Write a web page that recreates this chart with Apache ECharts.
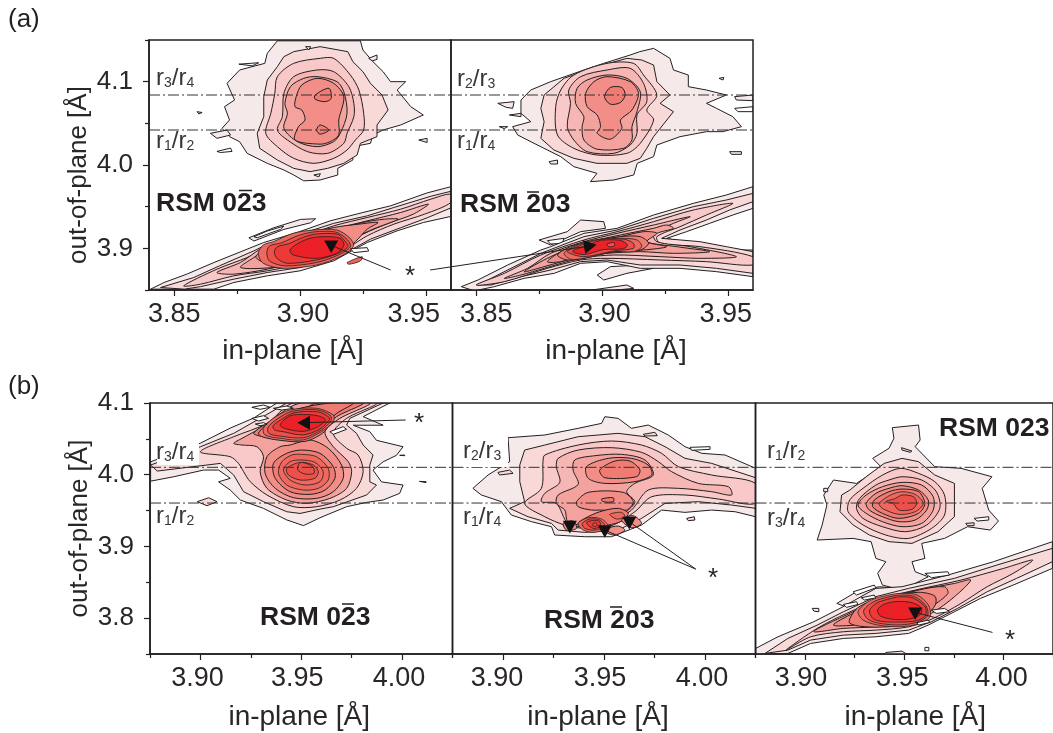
<!DOCTYPE html>
<html><head><meta charset="utf-8">
<style>html,body{margin:0;padding:0;background:#fff}#c{width:1053px;height:733px}</style>
<script src="https://cdn.jsdelivr.net/npm/echarts@6/dist/echarts.min.js"></script>
</head><body><div id="c"></div>
<script>
// ---- tick labels
const xTicksA=[3.85,3.90,3.95], xMinorA=[3.875,3.925];
const yTicksA=[3.9,4.0,4.1], yMinorA=[3.85,3.95,4.05,4.15];
const xTicksB=[3.90,3.95,4.00], xMinorB=[3.875,3.925,3.975,4.025];
const yTicksB=[3.8,3.9,4.0,4.1], yMinorB=[3.75,3.85,3.95,4.05];
const refA=[4.084,4.042], refB=[4.0103,3.9605];
// ---- contour polygons, [in-plane, out-of-plane] in Å. Panel a1: RSM 0-23
const a1u1=[[3.891,4.149],[3.924,4.149],[3.925,4.138],[3.929,4.124],[3.933,4.112],[3.936,4.100],[3.942,4.100],[3.9386,4.090],[3.944,4.070],[3.949,4.060],[3.940,4.048],[3.933,4.042],[3.929,4.036],[3.928,4.026],[3.921,4.022],[3.921,4.006],[3.915,3.996],[3.915,3.988],[3.908,3.982],[3.9015,3.981],[3.8975,3.988],[3.8936,3.994],[3.887,4.002],[3.879,4.014],[3.876,4.028],[3.872,4.034],[3.869,4.044],[3.872,4.054],[3.870,4.070],[3.874,4.078],[3.871,4.098],[3.876,4.114],[3.886,4.122],[3.887,4.134]];
const a1u2=[[3.8975,4.136],[3.908,4.142],[3.919,4.136],[3.921,4.124],[3.925,4.112],[3.928,4.098],[3.9326,4.084],[3.935,4.066],[3.9306,4.048],[3.9306,4.034],[3.924,4.026],[3.9227,4.012],[3.9174,4.002],[3.911,3.996],[3.904,3.992],[3.8975,3.996],[3.891,4.006],[3.884,4.020],[3.883,4.038],[3.8856,4.058],[3.8856,4.082],[3.887,4.102],[3.891,4.118],[3.8936,4.130]];
const a1u3=[[3.908,4.128],[3.9134,4.128],[3.920,4.108],[3.9234,4.090],[3.9253,4.062],[3.9253,4.042],[3.922,4.030],[3.9187,4.018],[3.9134,4.008],[3.9055,4.002],[3.8975,4.008],[3.891,4.022],[3.8864,4.038],[3.8884,4.062],[3.890,4.086],[3.891,4.106],[3.8975,4.122]];
const a1u4=[[3.9068,4.114],[3.9134,4.112],[3.9194,4.094],[3.9214,4.074],[3.9214,4.058],[3.9187,4.038],[3.9174,4.026],[3.911,4.014],[3.903,4.016],[3.895,4.030],[3.891,4.042],[3.893,4.058],[3.8936,4.086],[3.8975,4.106]];
const a1u5=[[3.9068,4.106],[3.9147,4.100],[3.9174,4.088],[3.9187,4.062],[3.916,4.038],[3.9134,4.028],[3.9068,4.022],[3.899,4.028],[3.8936,4.044],[3.895,4.062],[3.894,4.074],[3.8962,4.094],[3.9015,4.104]];
const a1u6=[[3.9068,4.104],[3.9134,4.098],[3.9174,4.082],[3.9154,4.054],[3.9154,4.036],[3.912,4.028],[3.908,4.025],[3.898,4.030],[3.8994,4.046],[3.902,4.054],[3.9007,4.066],[3.898,4.070],[3.8985,4.082],[3.9007,4.096]];
const a1u7a=[[3.906,4.084],[3.9115,4.092],[3.9124,4.080],[3.910,4.076],[3.906,4.079]];
const a1u7b=[[3.9066,4.042],[3.908,4.048],[3.9115,4.042],[3.908,4.037]];
const a1i1=[[3.8757,4.121],[3.8836,4.1227],[3.881,4.119]];
const a1i2=[[3.8644,4.038],[3.871,4.042],[3.8724,4.036],[3.867,4.032]];
const a1i3=[[3.867,4.0163],[3.8724,4.0203],[3.873,4.0163],[3.8684,4.015]];
const a1i4=[[3.9273,4.128],[3.9306,4.132],[3.9306,4.1267],[3.9287,4.125]];
const a1i5=[[3.9472,4.030],[3.9505,4.032],[3.9505,4.027]];
const a1i6=[[3.8591,4.064],[3.8611,4.063],[3.8598,4.0613]];
const a1i7=[[3.9022,4.142],[3.9042,4.142],[3.9035,4.138]];
const a1i8=[[3.9055,3.988],[3.9081,3.9896],[3.9075,3.9857]];
const a1f1=[[3.8797,3.9127],[3.8896,3.9247],[3.9002,3.9347],[3.9062,3.9355],[3.9042,3.9307],[3.8936,3.9227],[3.8817,3.9088]];
const a1f2=[[3.8817,3.9139],[3.8869,3.9207],[3.8936,3.9267],[3.8922,3.9227],[3.883,3.9127]];
const a1s1=[[3.8406,3.851],[3.846,3.859],[3.855,3.869],[3.8658,3.883],[3.879,3.899],[3.8856,3.907],[3.8989,3.919],[3.912,3.933],[3.925,3.943],[3.936,3.951],[3.9505,3.9665],[3.960,3.974],[3.961,3.939],[3.949,3.931],[3.9386,3.921],[3.9267,3.907],[3.9134,3.885],[3.900,3.873],[3.887,3.867],[3.8737,3.859],[3.8658,3.851]];
const a1s2=[[3.8446,3.853],[3.8578,3.865],[3.868,3.879],[3.8817,3.897],[3.887,3.905],[3.900,3.917],[3.9134,3.930],[3.9267,3.939],[3.9373,3.949],[3.952,3.9625],[3.960,3.9685],[3.960,3.9486],[3.9505,3.9366],[3.940,3.9247],[3.928,3.911],[3.9148,3.889],[3.900,3.877],[3.887,3.871],[3.8737,3.863],[3.8605,3.854],[3.854,3.851]];
const a1s3=[[3.8538,3.855],[3.867,3.875],[3.879,3.889],[3.887,3.901],[3.900,3.913],[3.9134,3.927],[3.9267,3.937],[3.940,3.947],[3.952,3.959],[3.960,3.965],[3.960,3.955],[3.9495,3.941],[3.9373,3.929],[3.9267,3.915],[3.9148,3.893],[3.900,3.881],[3.887,3.873],[3.8737,3.867],[3.8605,3.857]];
const a1s4=[[3.867,3.871],[3.8763,3.883],[3.8856,3.901],[3.900,3.911],[3.9134,3.923],[3.9267,3.933],[3.940,3.943],[3.951,3.953],[3.945,3.941],[3.936,3.931],[3.925,3.917],[3.9134,3.897],[3.900,3.885],[3.887,3.875],[3.8737,3.869]];
const a1s5=[[3.8764,3.877],[3.8817,3.889],[3.887,3.899],[3.900,3.909],[3.9134,3.921],[3.925,3.931],[3.9336,3.935],[3.939,3.935],[3.929,3.923],[3.921,3.911],[3.9134,3.895],[3.900,3.883],[3.8896,3.877]];
const a1s6=[[3.8825,3.889],[3.8856,3.899],[3.891,3.907],[3.900,3.915],[3.9134,3.925],[3.9234,3.929],[3.931,3.931],[3.9267,3.923],[3.922,3.908],[3.9134,3.888],[3.900,3.878],[3.8896,3.879]];
const a1r0=[[3.8854,3.904],[3.8894,3.908],[3.8973,3.9181],[3.9053,3.922],[3.9146,3.922],[3.9199,3.9121],[3.9212,3.902],[3.9159,3.89],[3.9066,3.88],[3.8934,3.876],[3.8854,3.882],[3.8834,3.894]];
const a1r2=[[3.888,3.903],[3.8925,3.9065],[3.8995,3.9155],[3.9058,3.9198],[3.9142,3.9195],[3.9188,3.9105],[3.92,3.902],[3.9152,3.892],[3.9066,3.883],[3.8942,3.879],[3.888,3.8845],[3.8868,3.8945]];
const a1r4=[[3.891,3.902],[3.8955,3.9055],[3.9015,3.9135],[3.9065,3.9172],[3.9148,3.917],[3.9178,3.909],[3.919,3.902],[3.9147,3.8935],[3.9066,3.886],[3.8952,3.882],[3.891,3.8875],[3.8898,3.8955]];
const a1c=[[3.896,3.898],[3.8993,3.906],[3.904,3.9121],[3.9093,3.914],[3.9159,3.9121],[3.9175,3.904],[3.9146,3.894],[3.9066,3.888],[3.8973,3.892]];
const a1h1=[[3.9201,3.8996],[3.9267,3.9008],[3.9273,3.8968],[3.9214,3.8948]];
const a1h2=[[3.9187,3.8829],[3.9247,3.89],[3.924,3.8849],[3.9194,3.8809]];
// ---- panel a2: RSM -203
const a2u1=[[3.9205,4.140],[3.927,4.128],[3.9284,4.114],[3.9343,4.108],[3.9343,4.094],[3.9415,4.090],[3.9494,4.084],[3.9415,4.074],[3.9455,4.068],[3.952,4.058],[3.9554,4.046],[3.948,4.040],[3.9415,4.040],[3.931,4.034],[3.9218,4.024],[3.9205,4.010],[3.914,4.002],[3.9126,3.988],[3.9047,3.982],[3.8954,3.980],[3.898,3.990],[3.8888,3.998],[3.8836,4.010],[3.873,4.026],[3.8665,4.036],[3.8645,4.046],[3.8717,4.052],[3.8678,4.062],[3.8678,4.078],[3.8717,4.090],[3.8796,4.100],[3.8928,4.114],[3.9007,4.122],[3.9112,4.132],[3.915,4.136]];
const a2u2=[[3.9158,4.126],[3.9205,4.120],[3.9218,4.100],[3.927,4.084],[3.9231,4.074],[3.9284,4.064],[3.9205,4.034],[3.9178,4.020],[3.9152,4.008],[3.9099,4.002],[3.898,4.002],[3.8888,4.008],[3.8809,4.018],[3.8757,4.032],[3.877,4.052],[3.8757,4.068],[3.877,4.084],[3.8849,4.104],[3.898,4.118],[3.9099,4.128]];
const a2u3=[[3.9125,4.122],[3.9165,4.108],[3.9218,4.084],[3.9178,4.066],[3.9205,4.054],[3.9152,4.026],[3.9099,4.014],[3.898,4.012],[3.8888,4.020],[3.8823,4.036],[3.8816,4.070],[3.8836,4.090],[3.8888,4.108],[3.902,4.122]];
const a2u4=[[3.902,4.114],[3.9112,4.116],[3.9165,4.098],[3.9178,4.076],[3.9139,4.060],[3.9139,4.038],[3.9112,4.024],[3.9047,4.014],[3.8941,4.016],[3.8888,4.030],[3.8862,4.046],[3.8875,4.074],[3.8868,4.090],[3.8915,4.106]];
const a2u5=[[3.902,4.108],[3.9099,4.104],[3.9152,4.088],[3.9139,4.064],[3.9119,4.046],[3.9119,4.030],[3.9086,4.020],[3.898,4.019],[3.8928,4.030],[3.8921,4.046],[3.8928,4.058],[3.8895,4.074],[3.8901,4.092],[3.8941,4.102]];
const a2u6=[[3.902,4.106],[3.9112,4.100],[3.9145,4.086],[3.9119,4.066],[3.9073,4.054],[3.9079,4.044],[3.9033,4.031],[3.8981,4.038],[3.8994,4.046],[3.8981,4.060],[3.8941,4.070],[3.8935,4.086],[3.8968,4.100]];
const a2u7=[[3.9033,4.093],[3.9079,4.093],[3.9092,4.084],[3.9073,4.075],[3.9033,4.073],[3.901,4.082]];
const a2i1=[[3.8586,4.074],[3.8651,4.076],[3.8645,4.068],[3.8619,4.0692]];
const a2i2=[[3.8632,4.06],[3.8678,4.062],[3.8678,4.058]];
const a2i3=[[3.8592,4.046],[3.8625,4.046],[3.8612,4.0436]];
const a2i4=[[3.9465,4.104],[3.9484,4.1052],[3.9481,4.102]];
const a2i5=[[3.9527,4.082],[3.96,4.084],[3.96,4.0772],[3.9534,4.078]];
const a2i6=[[3.9527,4.068],[3.96,4.07],[3.96,4.064],[3.954,4.064]];
const a2i7=[[3.9507,4.016],[3.9554,4.016],[3.9554,4.0128],[3.9514,4.0128]];
const a2i8=[[3.879,4.004],[3.8823,4.006],[3.8823,4.0012],[3.8796,4.0012]];
const a2f1=[[3.875,3.91],[3.8862,3.92],[3.8915,3.934],[3.9007,3.932],[3.9014,3.924],[3.8915,3.92],[3.8796,3.904]];
const a2f2=[[3.8783,3.9092],[3.8849,3.912],[3.8842,3.906],[3.8796,3.9052]];
const a2f3=[[3.8981,3.868],[3.9033,3.878],[3.9152,3.88],[3.9205,3.876],[3.9099,3.87],[3.9007,3.862]];
const a2f4=[[3.8941,3.8492],[3.9099,3.856],[3.9126,3.852],[3.9033,3.8492]];
const a2s1=[[3.8441,3.854],[3.8507,3.862],[3.8625,3.880],[3.8757,3.898],[3.8796,3.902],[3.8928,3.918],[3.906,3.924],[3.9205,3.940],[3.9363,3.954],[3.9494,3.964],[3.960,3.974],[3.960,3.948],[3.952,3.940],[3.9428,3.930],[3.9336,3.920],[3.9257,3.912],[3.9389,3.904],[3.9494,3.898],[3.960,3.898],[3.960,3.866],[3.9455,3.872],[3.931,3.876],[3.9152,3.876],[3.902,3.884],[3.8915,3.882],[3.881,3.870],[3.8691,3.864],[3.8572,3.854],[3.8493,3.849]];
const a2s2=[[3.8507,3.856],[3.8625,3.874],[3.8757,3.894],[3.8928,3.914],[3.906,3.922],[3.9205,3.936],[3.9363,3.950],[3.9494,3.958],[3.960,3.966],[3.960,3.956],[3.9507,3.946],[3.9415,3.934],[3.9310,3.922],[3.9237,3.912],[3.9389,3.908],[3.9494,3.902],[3.960,3.896],[3.960,3.870],[3.9455,3.876],[3.931,3.880],[3.9152,3.880],[3.902,3.886],[3.8915,3.884],[3.8796,3.874],[3.8678,3.866],[3.8559,3.856]];
const a2s3=[[3.85,3.856],[3.8612,3.870],[3.8757,3.892],[3.8928,3.910],[3.906,3.920],[3.9205,3.932],[3.9363,3.946],[3.952,3.954],[3.9415,3.940],[3.931,3.926],[3.9218,3.914],[3.9231,3.906],[3.9389,3.902],[3.960,3.890],[3.960,3.880],[3.9415,3.884],[3.9231,3.886],[3.902,3.888],[3.8915,3.886],[3.8783,3.876],[3.8612,3.860]];
const a2s4=[[3.8612,3.864],[3.8704,3.876],[3.8796,3.894],[3.8928,3.908],[3.906,3.918],[3.9205,3.928],[3.935,3.938],[3.9284,3.930],[3.9205,3.918],[3.9218,3.908],[3.9350,3.902],[3.9534,3.890],[3.9389,3.888],[3.9231,3.890],[3.9047,3.892],[3.8915,3.888],[3.8770,3.876],[3.8678,3.868]];
const a2s5=[[3.8691,3.872],[3.8796,3.890],[3.8928,3.906],[3.9073,3.916],[3.9205,3.924],[3.9257,3.928],[3.9284,3.924],[3.9218,3.918],[3.9178,3.908],[3.9297,3.902],[3.9428,3.896],[3.9284,3.894],[3.9152,3.896],[3.902,3.894],[3.8915,3.890],[3.8770,3.878]];
const a2s6=[[3.8783,3.884],[3.8849,3.898],[3.8941,3.906],[3.9073,3.914],[3.9165,3.920],[3.9218,3.918],[3.9178,3.908],[3.9257,3.902],[3.9165,3.898],[3.9047,3.896],[3.8928,3.892],[3.8836,3.884]];
const a2s7=[[3.8823,3.892],[3.8875,3.902],[3.8954,3.908],[3.9073,3.914],[3.9152,3.914],[3.9185,3.906],[3.9152,3.898],[3.9047,3.896],[3.8928,3.888],[3.8862,3.886]];
const a2s8=[[3.8849,3.894],[3.8888,3.902],[3.8968,3.910],[3.9073,3.912],[3.9139,3.910],[3.9158,3.902],[3.9125,3.896],[3.9047,3.896],[3.8928,3.888],[3.8875,3.887]];
const a2s9=[[3.8862,3.896],[3.8902,3.902],[3.8981,3.910],[3.9086,3.911],[3.9125,3.906],[3.9125,3.900],[3.9047,3.897],[3.8928,3.890]];
const a2c=[[3.8882,3.8965],[3.8941,3.9035],[3.8994,3.9095],[3.9075,3.9095],[3.9101,3.904],[3.9085,3.8995],[3.9007,3.8985],[3.8928,3.8925]];
const a2s12=[[3.902,3.905],[3.9047,3.907],[3.905,3.903],[3.9027,3.902]];
// ---- panel b1: RSM 0-23
const b1m1=[[3.8753,4.018],[3.900,4.044],[3.9148,4.065],[3.9264,4.079],[3.9379,4.100],[3.9939,4.100],[3.9807,4.081],[3.9906,4.069],[3.9758,4.069],[3.984,4.060],[3.9873,4.048],[4.0005,4.039],[3.9972,4.027],[3.9906,4.018],[3.9856,4.0065],[3.9898,3.990],[4.0005,3.9856],[3.9988,3.974],[3.9906,3.9647],[3.9824,3.9614],[3.9725,3.9554],[3.9593,3.940],[3.9511,3.929],[3.9428,3.937],[3.9313,3.953],[3.9198,3.9647],[3.9148,3.9786],[3.909,3.990],[3.9148,3.995],[3.909,4.0065],[3.9016,4.0065],[3.8868,3.9972],[3.8753,3.991]];
const b1m2=[[3.8753,4.0135],[3.90,4.039],[3.9165,4.0577],[3.9296,4.0786],[3.9428,4.10],[3.9906,4.10],[3.9741,4.0786],[3.9725,4.0693],[3.9774,4.0577],[3.9807,4.0414],[3.9856,4.0275],[3.984,4.0135],[3.984,3.990],[3.9873,3.9856],[3.9824,3.9717],[3.9659,3.9554],[3.9593,3.952],[3.9494,3.946],[3.9428,3.9484],[3.9313,3.9624],[3.9214,3.9763],[3.9165,3.9996],[3.9099,4.0158],[3.8786,4.0051]];
const b1m3=[[3.90,4.032],[3.9165,4.053],[3.933,4.0716],[3.9461,4.10],[3.9873,4.10],[3.9725,4.0786],[3.9659,4.0577],[3.9725,4.0368],[3.9782,4.0275],[3.9807,4.0042],[3.9774,3.981],[3.9692,3.9647],[3.9576,3.9554],[3.9461,3.9554],[3.933,3.9717],[3.9247,3.9903],[3.9214,4.0042],[3.9189,4.0158],[3.9148,4.0251]];
const b1m4=[[3.9165,4.0437],[3.9206,4.0507],[3.9296,4.0647],[3.9494,4.10],[3.9840,4.10],[3.9692,4.0786],[3.9618,4.06],[3.9659,4.0391],[3.9733,4.0182],[3.975,4.0042],[3.9725,3.981],[3.9642,3.967],[3.9527,3.9601],[3.9428,3.9647],[3.933,3.981],[3.9296,4.0042],[3.9313,4.0251],[3.9280,4.039],[3.9206,4.0414]];
const b1l5=[[3.9445,4.0414],[3.9544,4.0484],[3.9634,4.0368],[3.97,4.0135],[3.9708,3.995],[3.9659,3.9763],[3.9576,3.967],[3.9461,3.968],[3.9371,3.981],[3.9321,4.0018],[3.933,4.0251],[3.9395,4.039]];
const b1l6=[[3.9502,4.0344],[3.9593,4.0298],[3.9659,4.0112],[3.9667,3.995],[3.9618,3.9786],[3.9544,3.9726],[3.9445,3.9763],[3.9371,3.995],[3.9362,4.0158],[3.9428,4.0298]];
const b1l7=[[3.9502,4.0284],[3.9576,4.0251],[3.9634,4.0088],[3.9634,3.9926],[3.9585,3.981],[3.9511,3.9786],[3.9428,3.9856],[3.9387,4.002],[3.9404,4.0182],[3.9453,4.0275]];
const b1l8=[[3.9502,4.0205],[3.9568,4.0172],[3.9609,4.0042],[3.9593,3.9903],[3.9519,3.9856],[3.9445,3.9926],[3.9412,4.0065],[3.9445,4.0182]];
const b1l9=[[3.9494,4.0172],[3.956,4.0135],[3.9585,4.0042],[3.9568,3.995],[3.9494,3.9926],[3.9436,3.9996],[3.9428,4.0088]];
const b1l10=[[3.9502,4.0172],[3.9557,4.0112],[3.9563,4.002],[3.9519,4.001],[3.9483,4.0065],[3.9486,4.0135]];
const b1c5=[[3.9264,4.0577],[3.9346,4.074],[3.9494,4.0879],[3.9576,4.10],[3.9807,4.10],[3.9675,4.0809],[3.9593,4.06],[3.9527,4.0507],[3.9428,4.0484],[3.9313,4.053]];
const b1c6=[[3.9288,4.058],[3.9355,4.0765],[3.9480,4.0915],[3.9642,4.10],[3.9758,4.10],[3.9662,4.0825],[3.9615,4.06],[3.9519,4.0465],[3.9395,4.048],[3.9305,4.053]];
const b1o=[[3.9312,4.0648],[3.9361,4.0787],[3.9444,4.0903],[3.9577,4.0926],[3.9659,4.0833],[3.9659,4.074],[3.9601,4.0601],[3.951,4.0485],[3.9395,4.0508],[3.932,4.0555]];
const b1r2=[[3.9335,4.0658],[3.938,4.0775],[3.9455,4.0885],[3.9578,4.0905],[3.9645,4.0825],[3.9647,4.075],[3.9597,4.0618],[3.951,4.0515],[3.9404,4.0535],[3.934,4.0575]];
const b1r4=[[3.936,4.068],[3.94,4.0768],[3.9465,4.0865],[3.9585,4.0875],[3.9638,4.08],[3.9638,4.076],[3.9593,4.0638],[3.951,4.0555],[3.941,4.06],[3.9368,4.0625]];
const b1c=[[3.9395,4.0694],[3.9444,4.082],[3.951,4.084],[3.9585,4.082],[3.962,4.0764],[3.958,4.0665],[3.951,4.0605],[3.9425,4.064]];
const b1h1=[[3.9255,4.094],[3.9313,4.0972],[3.9346,4.094],[3.9296,4.0912]];
const b1h2=[[3.9362,4.0926],[3.9428,4.0958],[3.9461,4.0926],[3.9404,4.0902]];
const b1h3=[[3.9255,4.0786],[3.9313,4.0823],[3.9338,4.0786],[3.9288,4.0749]];
const b1h4=[[3.9272,4.0707],[3.9313,4.0726],[3.933,4.0702],[3.9296,4.0684]];
const b1h5=[[3.9642,4.06],[3.9708,4.067],[3.9725,4.0633],[3.9659,4.0563]];
const b1i1=[[3.8984,3.9624],[3.9041,3.9679],[3.9082,3.9624],[3.9033,3.9568]];
const b1i2=[[3.9988,4.027],[4.0013,4.0275],[4.0013,4.0265]];
const b1i3=[[4.0086,3.9907],[4.0119,3.9903],[4.0119,3.989]];
// ---- panel b2: RSM -203
const b2m1=[[3.9504,4.0809],[3.957,4.0786],[3.9636,4.0647],[3.9719,4.0693],[3.9818,4.0554],[3.9901,4.0391],[3.9984,4.0298],[4.0099,4.0275],[4.0251,4.0089],[4.0251,3.9414],[4.0149,3.9484],[4.0033,3.9507],[3.9901,3.9475],[3.9785,3.9507],[3.9686,3.9298],[3.9537,3.9135],[3.9405,3.9135],[3.9256,3.9159],[3.924,3.9275],[3.9141,3.9345],[3.9041,3.9438],[3.8992,3.9624],[3.8893,3.9717],[3.8851,3.981],[3.8926,3.9996],[3.9033,4.0182],[3.9025,4.0516],[3.9207,4.0554],[3.9372,4.0647],[3.9488,4.0716]];
const b2m2=[[3.9107,4.0344],[3.9207,4.0414],[3.9372,4.053],[3.957,4.0577],[3.9703,4.053],[3.9802,4.0391],[3.9901,4.0228],[4.0033,4.0158],[4.0251,3.9958],[4.0251,3.9531],[4.0132,3.9577],[3.9967,3.9624],[3.9802,3.96],[3.9686,3.9391],[3.957,3.9228],[3.9405,3.9196],[3.9273,3.9228],[3.924,3.9321],[3.9124,3.9414],[3.9033,3.9531],[3.9107,3.9624],[3.9083,3.9903],[3.9083,4.0135]];
const b2m3=[[3.9207,4.0275],[3.9372,4.0414],[3.9537,4.047],[3.9686,4.0414],[3.9785,4.0298],[3.9868,4.0112],[4.0033,3.9996],[4.0251,3.9879],[4.0251,3.96],[4.0066,3.9661],[3.9901,3.9717],[3.9736,3.9693],[3.9653,3.9484],[3.9537,3.9289],[3.9405,3.9252],[3.9306,3.9298],[3.9207,3.9414],[3.9107,3.96],[3.919,3.981],[3.9198,4.0182]];
const b2m4=[[3.9273,4.0228],[3.9372,4.0344],[3.9537,4.0377],[3.9686,4.0312],[3.9769,4.0182],[3.9835,4.0042],[3.9967,3.9879],[4.0116,3.9833],[4.0132,3.9717],[4.0033,3.9763],[3.9868,3.981],[3.9719,3.9786],[3.9636,3.9507],[3.9537,3.9345],[3.9422,3.9275],[3.9322,3.9321],[3.9264,3.96],[3.919,3.9624],[3.9207,3.974],[3.9281,3.9893],[3.9264,4.0112]];
const b2m5=[[3.9355,4.0205],[3.9455,4.0265],[3.9587,4.0284],[3.9703,4.0205],[3.9744,3.9996],[3.9653,3.9879],[3.9612,3.9763],[3.9653,3.9624],[3.962,3.9507],[3.9537,3.9321],[3.9422,3.9289],[3.9322,3.9345],[3.9306,3.9507],[3.9264,3.96],[3.9273,3.9717],[3.9372,3.9865],[3.9347,4.0065]];
const b2u6=[[3.9413,4.0112],[3.9521,4.0228],[3.9636,4.0228],[3.9719,4.0135],[3.9736,3.9996],[3.9653,3.9903],[3.9504,3.9879],[3.9422,3.9949]];
const b2u7=[[3.9479,4.0065],[3.9554,4.0191],[3.9628,4.0191],[3.9678,4.0065],[3.9661,3.9972],[3.9504,3.9958]];
const b2l6=[[3.9364,3.9624],[3.9422,3.9754],[3.9595,3.9754],[3.9645,3.9624],[3.9612,3.9507],[3.9479,3.9507],[3.9438,3.9507],[3.9372,3.9554]];
const b2l7=[[3.9488,3.9661],[3.9546,3.9679],[3.9546,3.9624],[3.9496,3.9624]];
const b2c6=[[3.9479,3.9484],[3.957,3.9531],[3.962,3.9461],[3.9587,3.9354],[3.9521,3.9298],[3.9422,3.9275],[3.9372,3.9321],[3.9405,3.9391]];
const b2c7=[[3.9529,3.9447],[3.9587,3.9475],[3.9603,3.9414],[3.9562,3.9382]];
const b2c8=[[3.9372,3.9321],[3.9422,3.94],[3.9488,3.9382],[3.9521,3.9275],[3.9455,3.9196],[3.9397,3.9228]];
const b2c9=[[3.9392,3.9321],[3.943,3.9382],[3.9479,3.9368],[3.9504,3.9284],[3.9455,3.9228],[3.9405,3.9252]];
const b2c10=[[3.9413,3.933],[3.9446,3.9363],[3.9479,3.9345],[3.9479,3.9275],[3.9446,3.9252]];
const b2c11=[[3.9446,3.9321],[3.9463,3.9321],[3.9463,3.9284],[3.9446,3.9284]];
const b2k1=[[3.9521,3.9252],[3.957,3.9284],[3.9603,3.9228],[3.9554,3.9159],[3.9512,3.9196]];
const b2k2=[[3.9587,3.9368],[3.9645,3.9428],[3.9686,3.9321],[3.9636,3.9261]];
const b2k3=[[3.9298,3.9321],[3.9347,3.9354],[3.9364,3.9252],[3.9314,3.9228]];
const b2i1=[[3.8975,4.0033],[3.9033,4.0065],[3.905,4.0019],[3.8983,3.9996]];
const b2i2=[[3.9694,4.0563],[3.9752,4.0591],[3.9764,4.0544],[3.9703,4.054]];
const b2i3=[[3.9909,3.9391],[3.9947,3.9414],[3.995,3.9368],[3.9917,3.9359]];
const b2i4=[[3.9926,4.0382],[4.0025,4.0391],[4.0025,4.0354],[3.9934,4.034]];
// ---- panel b3: RSM 023
const b3u1=[[3.944,4.0656],[3.9572,4.0693],[3.958,4.0484],[3.9555,4.0391],[3.9654,4.0112],[3.9786,4.0089],[3.9942,3.9972],[3.9893,3.981],[3.9926,3.9507],[3.9975,3.9354],[3.9934,3.9228],[3.9819,3.9275],[3.9703,3.9112],[3.9588,3.9042],[3.9604,3.8833],[3.9539,3.8787],[3.9555,3.8647],[3.9621,3.8577],[3.9489,3.8391],[3.939,3.8461],[3.9366,3.8624],[3.9407,3.8787],[3.9357,3.8833],[3.9333,3.9066],[3.9242,3.9112],[3.9061,3.9089],[3.9086,3.9298],[3.911,3.9577],[3.9094,3.9717],[3.9143,3.9926],[3.9259,3.9879],[3.9324,3.9996],[3.9382,4.0112],[3.9341,4.0228],[3.9423,4.0368],[3.9448,4.0507]];
const b3u2=[[3.9489,4.0228],[3.9572,4.0182],[3.9654,3.9996],[3.9753,3.9879],[3.9753,3.9624],[3.9753,3.9414],[3.967,3.9205],[3.9539,3.9042],[3.9423,3.9066],[3.9324,3.9159],[3.9242,3.93],[3.9176,3.9484],[3.9184,3.9717],[3.9226,3.9786],[3.9308,3.9972],[3.9399,4.0158]];
const b3u3=[[3.9481,4.0089],[3.9572,4.0019],[3.9654,3.9903],[3.9703,3.9717],[3.9703,3.9438],[3.9637,3.925],[3.9522,3.9112],[3.9407,3.9159],[3.9292,3.93],[3.9217,3.9484],[3.9226,3.965],[3.9292,3.981],[3.9391,3.9996]];
const b3u4=[[3.9489,3.9972],[3.9588,3.9926],[3.9662,3.9763],[3.9679,3.953],[3.9613,3.9298],[3.9506,3.9205],[3.939,3.9275],[3.9292,3.9391],[3.9259,3.953],[3.9275,3.967],[3.9357,3.9856],[3.9423,3.9926]];
const b3u5=[[3.9489,3.9893],[3.9588,3.9856],[3.9646,3.9693],[3.9646,3.9507],[3.9588,3.9321],[3.9489,3.9275],[3.939,3.9345],[3.9308,3.9461],[3.9267,3.9577],[3.9308,3.9717],[3.939,3.9833]];
const b3u6=[[3.9489,3.9847],[3.9572,3.9786],[3.9621,3.9647],[3.9613,3.9507],[3.9555,3.9368],[3.9473,3.9345],[3.939,3.9414],[3.9324,3.9507],[3.9308,3.96],[3.9357,3.974],[3.9423,3.981]];
const b3u7=[[3.9489,3.98],[3.9572,3.9763],[3.9604,3.96],[3.9572,3.9461],[3.9473,3.9391],[3.939,3.9461],[3.9341,3.9554],[3.9349,3.9647],[3.9423,3.9763]];
const b3u8=[[3.9489,3.9763],[3.9555,3.9726],[3.9596,3.96],[3.9555,3.9484],[3.9473,3.9447],[3.939,3.953],[3.9374,3.96],[3.9431,3.9717]];
const b3u9=[[3.9489,3.9717],[3.9547,3.9693],[3.9563,3.96],[3.9539,3.9517],[3.9473,3.9507],[3.9443,3.96],[3.9407,3.9624],[3.9456,3.967]];
const b3s1=[[3.8751,3.7578],[3.8863,3.774],[3.9044,3.795],[3.9176,3.8136],[3.9357,3.8415],[3.9489,3.8438],[3.972,3.8601],[3.995,3.8787],[4.0247,3.9066],[4.0247,3.8694],[4.0049,3.8461],[3.9884,3.8275],[3.9753,3.8089],[3.9621,3.7903],[3.9522,3.7787],[3.9357,3.774],[3.9193,3.7717],[3.9028,3.7647],[3.8913,3.7508],[3.8751,3.7499]];
const b3s2=[[3.8798,3.7508],[3.8913,3.7717],[3.9061,3.7903],[3.9193,3.8089],[3.9357,3.83],[3.9522,3.8415],[3.9753,3.8555],[3.9967,3.874],[4.0247,3.8973],[4.0247,3.8787],[4.0066,3.8554],[3.9918,3.8368],[3.9769,3.8136],[3.9637,3.795],[3.9522,3.7833],[3.9357,3.7787],[3.9193,3.7763],[3.9028,3.7694],[3.8913,3.7554]];
const b3s3=[[3.8904,3.7554],[3.9061,3.7857],[3.9209,3.8066],[3.939,3.8275],[3.9555,3.8391],[3.9786,3.8531],[4.0,3.8693],[4.0148,3.881],[4.0049,3.8624],[3.9918,3.8438],[3.9786,3.8205],[3.9646,3.7996],[3.9522,3.7879],[3.9357,3.7833],[3.9193,3.7810],[3.9028,3.774]];
const b3s4=[[3.9044,3.7813],[3.9193,3.8024],[3.9357,3.8229],[3.9555,3.8382],[3.9753,3.8484],[3.9835,3.8531],[3.9753,3.8298],[3.9637,3.8066],[3.9522,3.7926],[3.9357,3.7879],[3.9193,3.7857]];
const b3s5=[[3.9143,3.7903],[3.9242,3.8066],[3.939,3.8229],[3.9572,3.8391],[3.9703,3.8438],[3.9720,3.8345],[3.9637,3.8159],[3.953,3.7973],[3.939,3.7926],[3.9259,3.7903]];
const b3s6=[[3.9225,3.793],[3.9265,3.8145],[3.939,3.8285],[3.9572,3.836],[3.9655,3.8305],[3.9655,3.8175],[3.9575,3.796],[3.939,3.7875]];
const b3o=[[3.9267,3.809],[3.9317,3.8229],[3.9383,3.8299],[3.9482,3.8346],[3.9564,3.8323],[3.9622,3.8183],[3.963,3.802],[3.9581,3.7928],[3.9482,3.788],[3.9366,3.7904],[3.9292,3.7974]];
const b3r2=[[3.9295,3.81],[3.9337,3.8215],[3.9397,3.828],[3.9482,3.8322],[3.9552,3.83],[3.961,3.8172],[3.9618,3.8036],[3.957,3.7948],[3.9482,3.7905],[3.9374,3.7928],[3.9316,3.7987]];
const b3r4=[[3.9325,3.811],[3.936,3.8208],[3.9415,3.8262],[3.9478,3.8298],[3.9545,3.828],[3.9606,3.8155],[3.9606,3.803],[3.9558,3.7962],[3.948,3.7945],[3.9385,3.7955],[3.934,3.8]];
const b3c=[[3.9365,3.8114],[3.94,3.8195],[3.9465,3.8232],[3.954,3.8215],[3.9588,3.8137],[3.9578,3.804],[3.9518,3.7985],[3.944,3.7985],[3.938,3.803]];
const b3f1=[[3.916,3.8205],[3.9259,3.8368],[3.9374,3.8438],[3.944,3.8424],[3.9357,3.8229],[3.9226,3.8136]];
const b3h1=[[3.9193,3.8191],[3.9259,3.8229],[3.9267,3.8191],[3.9209,3.815]];
const b3h2=[[3.9283,3.8284],[3.9349,3.8322],[3.9357,3.8284],[3.93,3.8252]];
const b3h3=[[3.9242,3.8368],[3.9349,3.8461],[3.9357,3.8424],[3.9259,3.8322]];
const b3h4=[[3.9637,3.8112],[3.9703,3.8136],[3.9728,3.8089],[3.9662,3.8066]];
const b3h5=[[3.9563,3.7936],[3.9621,3.7973],[3.9629,3.794],[3.9572,3.7903]];
const b3i1=[[3.9604,3.8624],[3.972,3.8647],[3.9728,3.86],[3.9637,3.8563]];
const b3i2=[[3.9486,4.0377],[3.9539,4.033],[3.953,4.0312],[3.9489,4.0344]];
const b3i3=[[3.9852,3.9391],[3.9926,3.9414],[3.9926,3.9368],[3.9868,3.9354]];
const b3i4=[[3.981,3.9321],[3.9852,3.933],[3.9852,3.9289],[3.9819,3.9289]];
const b3i5=[[3.9036,3.8136],[3.9069,3.8136],[3.9069,3.8089],[3.9044,3.8098]];
const b3i6=[[3.9094,3.981],[3.9114,3.981],[3.9114,3.9763],[3.9094,3.9763]];
const b3i7=[[3.9407,3.7522],[3.9489,3.754],[3.9514,3.7494],[3.9399,3.7494]];
const b3i8=[[3.9604,3.7592],[3.9624,3.7592],[3.9624,3.7545],[3.9604,3.7545]];
// ---- arrows: tail x, tail y, head x, head y, head direction in degrees
const a1Arrows=[[3.936,3.874,3.9124,3.9036,-90]];
const a2Arrows=[[3.8317,3.874,3.8948,3.9028,10]];
const b1Arrows=[[4.0018,4.0763,3.9519,4.0726,180]];
const b2Arrows=[[3.9954,3.8684,3.9504,3.9228,-90],[3.9954,3.8684,3.9625,3.9345,-90],[3.9331,3.9289,3.9331,3.9289,-90]];
const b3Arrows=[[3.9945,3.7801,3.9555,3.808,-90]];

const levelColors=['#ffffff','#f6e9e9','#f9d9d8','#f8c9c8','#f6b6b3','#f4a29d','#f28e87','#f07b73','#ef675f','#ee5049','#ed3a36','#ec2127'];
const lineColor='#231f20';
const font='"Liberation Sans",Arial,sans-serif';

const panels=[
 {left:149,top:40,width:302,height:250,xr:[3.84,3.96],yr:[3.85,4.15],xt:xTicksA,xm:xMinorA,yt:yTicksA,ym:yMinorA,ref:refA,showY:true,arrows:a1Arrows,namePad:[0,14,0,0],yPad:[0,20,0,0],labelShift:[0,3,-12],gap:47,
  polys:[[1,a1u1],[2,a1u2],[3,a1u3],[4,a1u4],[5,a1u5],[6,a1u6],[7,a1u7a],[7,a1u7b],[0,a1i1],[1,a1i2],[0,a1i3],[1,a1i4],[1,a1i5],[1,a1i6],[1,a1i7],[1,a1i8],[1,a1f1],[0,a1f2],[1,a1s1],[2,a1s2],[3,a1s3],[4,a1s4],[5,a1s5],[6,a1s6],[8,a1r0],[9,a1r2],[10,a1r4],[11,a1c],[0,a1h1],[8,a1h2]]},
 {left:451,top:40,width:302,height:250,xr:[3.84,3.96],yr:[3.85,4.15],xt:xTicksA,xm:xMinorA,yt:[],ym:[],ref:refA,showY:false,arrows:a2Arrows,namePad:[0,0,0,28],yPad:[0,0,0,0],labelShift:[10,2.5,-2],gap:47,
  polys:[[1,a2u1],[2,a2u2],[3,a2u3],[4,a2u4],[5,a2u5],[6,a2u6],[7,a2u7],[1,a2i1],[1,a2i2],[1,a2i3],[1,a2i4],[1,a2i5],[0,a2i6],[1,a2i7],[1,a2i8],[1,a2f1],[0,a2f2],[1,a2f3],[1,a2f4],[1,a2s1],[2,a2s2],[3,a2s3],[4,a2s4],[5,a2s5],[6,a2s6],[7,a2s7],[8,a2s8],[9,a2s9],[11,a2c],[9,a2s12]]},
 {left:150,top:403,width:302.5,height:251,xr:[3.875,4.025],yr:[3.75,4.1],xt:xTicksB,xm:xMinorB,yt:yTicksB,ym:yMinorB,ref:refB,showY:true,arrows:b1Arrows,namePad:[0,4,0,0],yPad:[0,0,0,0],labelShift:[-3,-4,-3],gap:49,
  polys:[[1,b1m1],[2,b1m2],[3,b1m3],[5,b1m4],[6,b1l5],[7,b1l6],[8,b1l7],[8,b1l8],[9,b1l9],[9,b1l10],[7,b1c5],[7,b1c6],[8,b1o],[9,b1r2],[10,b1r4],[11,b1c],[0,b1h1],[0,b1h2],[0,b1h3],[0,b1h4],[0,b1h5],[2,b1i1],[0,b1i2],[0,b1i3]]},
 {left:452.5,top:403,width:303,height:251,xr:[3.875,4.025],yr:[3.75,4.1],xt:xTicksB,xm:xMinorB,yt:[],ym:[],ref:refB,showY:false,arrows:b2Arrows,namePad:[0,12,0,0],yPad:[0,0,0,0],labelShift:[-6,-4,-3],gap:49,
  polys:[[1,b2m1],[2,b2m2],[3,b2m3],[4,b2m4],[5,b2m5],[6,b2u6],[7,b2u7],[6,b2l6],[7,b2l7],[7,b2c6],[8,b2c7],[8,b2c8],[9,b2c9],[10,b2c10],[9,b2c11],[6,b2k1],[6,b2k2],[6,b2k3],[2,b2i1],[2,b2i2],[2,b2i3],[0,b2i4]]},
 {left:755.5,top:403,width:303,height:251,xr:[3.875,4.025],yr:[3.75,4.1],xt:xTicksB,xm:xMinorB,yt:[],ym:[],ref:refB,showY:false,arrows:b3Arrows,namePad:[0,0,0,22],yPad:[0,0,0,0],labelShift:[-4,-2,-2],gap:49,
  polys:[[1,b3u1],[2,b3u2],[3,b3u3],[4,b3u4],[5,b3u5],[6,b3u6],[7,b3u7],[8,b3u8],[9,b3u9],[2,b3i2],[0,b3i3],[2,b3i4],[1,b3i5],[1,b3i6],[1,b3i7],[0,b3i8],[1,b3f1],[1,b3s1],[2,b3s2],[3,b3s3],[5,b3s4],[6,b3s5],[7,b3s6],[8,b3o],[9,b3r2],[10,b3r4],[11,b3c],[0,b3h1],[0,b3h2],[0,b3h3],[0,b3h4],[0,b3h5],[0,b3i1]]}
];

const xTickFont=27,yTickFont=26,xNameFont=28,yNameFont=26,textCol='#2a2627';
const grid=[],xAxis=[],yAxis=[],series=[];
panels.forEach((p,i)=>{
 grid.push({left:p.left,top:p.top,width:p.width,height:p.height,show:false,containLabel:false});
 const axLine={show:true,lineStyle:{color:lineColor,width:1.5}};
 const labelRich={};
 p.labelShift.forEach((s,k)=>{labelRich['t'+k]={fontFamily:font,fontSize:xTickFont,color:textCol,padding:[0,s<0?-2*s:0,0,s>0?2*s:0]};});
 xAxis.push({type:'value',gridIndex:i,min:p.xr[0],max:p.xr[1],position:'bottom',splitLine:{show:false},
   axisLine:axLine,axisTick:{show:true,length:6,customValues:p.xt,lineStyle:{color:lineColor,width:1.2}},
   axisLabel:{show:true,customValues:p.xt,margin:11,fontFamily:font,fontSize:xTickFont,color:textCol,rich:labelRich,
     formatter:v=>{const k=p.xt.findIndex(t=>Math.abs(t-v)<1e-6);return `{t${k}|${v.toFixed(2)}}`;}},
   name:'in-plane [Å]',nameLocation:'middle',nameGap:p.gap,nameTextStyle:{fontFamily:font,fontSize:xNameFont,color:textCol,padding:p.namePad}});
 xAxis.push({type:'value',gridIndex:i,min:p.xr[0],max:p.xr[1],position:'bottom',splitLine:{show:false},
   axisLine:{show:false},axisLabel:{show:false},axisTick:{show:true,length:4,customValues:p.xm,lineStyle:{color:lineColor,width:1.2}}});
 yAxis.push({type:'value',gridIndex:i,min:p.yr[0],max:p.yr[1],position:'left',splitLine:{show:false},show:p.showY,
   axisLine:axLine,axisTick:{show:true,length:6,customValues:p.yt,lineStyle:{color:lineColor,width:1.2}},
   axisLabel:{show:true,customValues:p.yt,margin:16,padding:[6,0,0,0],fontFamily:font,fontSize:yTickFont,color:textCol,formatter:v=>v.toFixed(1)},
   name:p.showY?'out-of-plane [Å]':'',nameLocation:'middle',nameRotate:90,nameGap:57,nameTextStyle:{fontFamily:font,fontSize:yNameFont,color:textCol,padding:p.yPad}});
 yAxis.push({type:'value',gridIndex:i,min:p.yr[0],max:p.yr[1],position:'left',show:p.showY,splitLine:{show:false},
   axisLine:{show:false},axisLabel:{show:false},axisTick:{show:true,length:4,customValues:p.ym,lineStyle:{color:lineColor,width:1.2}}});
 const xi=i*2,yi=i*2;
 series.push({type:'custom',name:'contours '+i,coordinateSystem:'cartesian2d',xAxisIndex:xi,yAxisIndex:yi,clip:true,silent:true,z:3,animation:false,
   data:p.polys.map(q=>q[1][0]),
   renderItem:(params,api)=>{
     const q=p.polys[params.dataIndex];
     return {type:'polygon',shape:{points:q[1].map(pt=>api.coord(pt)),smooth:q[0]>=3?0.3:0},
       style:{fill:levelColors[q[0]],stroke:lineColor,lineWidth:q[0]>=8?0.8:1}};
   }});
 p.ref.forEach(r=>series.push({type:'line',name:'ref '+r,xAxisIndex:xi,yAxisIndex:yi,z:5,silent:true,symbol:'none',animation:false,
   data:[[p.xr[0],r],[p.xr[1],r]],lineStyle:{color:'#333',width:1,type:[11,3,2,3]}}));
 series.push({type:'custom',name:'arrows '+i,coordinateSystem:'cartesian2d',xAxisIndex:xi,yAxisIndex:yi,clip:false,silent:true,z:6,animation:false,
   data:p.arrows,
   encode:{x:0,y:1},
   renderItem:(params,api)=>{
     const a=p.arrows[params.dataIndex];
     const t=api.coord([a[0],a[1]]),h=api.coord([a[2],a[3]]);
     const ang=-a[4]*Math.PI/180,s=7;
     const tri=[[s*1.1,0],[-s*.7,-s],[-s*.7,s]].map(v=>[h[0]+v[0]*Math.cos(ang)-v[1]*Math.sin(ang),h[1]+v[0]*Math.sin(ang)+v[1]*Math.cos(ang)]);
     return {type:'group',children:[
       {type:'line',shape:{x1:t[0],y1:t[1],x2:h[0],y2:h[1]},style:{stroke:lineColor,lineWidth:1}},
       {type:'polygon',shape:{points:tri},style:{fill:'#111'}}]};
   }});
 series.push({type:'custom',name:'frame '+i,coordinateSystem:'cartesian2d',xAxisIndex:xi,yAxisIndex:yi,clip:false,silent:true,z:7,animation:false,
   data:[[p.xr[0],p.yr[0],p.xr[1],p.yr[1]]],encode:{x:0,y:1},
   renderItem:(params,api)=>{
     const a=api.coord([p.xr[0],p.yr[1]]),b=api.coord([p.xr[1],p.yr[0]]);
     return {type:'rect',shape:{x:a[0],y:a[1],width:b[0]-a[0],height:b[1]-a[1]},style:{fill:'none',stroke:lineColor,lineWidth:1.5}};
   }});
});

// ---- annotations
const rich={r:{fontFamily:font,fontSize:24,color:'#3a3637'},s:{fontFamily:font,fontSize:14,color:'#3a3637',verticalAlign:'bottom',padding:[10,0,0,0]}};
const rl=(x,y,a,b,box)=>{
 const out=[];
 if(box) out.push({type:'rect',z:20,silent:true,shape:{x:box[0],y:box[1],width:box[2],height:box[3]},style:{fill:'#fff'}});
 out.push({type:'text',z:21,silent:true,x,y,style:{text:`{r|r}{s|${a}}{r|/r}{s|${b}}`,rich,fontFamily:font,fontSize:24,fill:'#3a3637'}});
 return out;
};
const tx=(x,y,text,size,weight,va)=>({type:'text',z:21,silent:true,x,y,style:{text,fontFamily:font,fontSize:size,fontWeight:weight||'normal',fill:'#231f20',verticalAlign:va||'middle'}});
const bar=(x1,x2,y)=>({type:'line',z:21,silent:true,shape:{x1,y1:y,x2,y2:y},style:{stroke:'#231f20',lineWidth:1.5}});
const graphic=[
 tx(8,20,'(a)',26),tx(8,387,'(b)',26),
 ...rl(156,66,3,4),...rl(156,129,1,2),
 ...rl(457,67,2,3),...rl(457,129,1,4),
 ...rl(156,440,3,4,[157,440,42,25]),...rl(156,504,1,2),
 ...rl(463,439,2,3,[463,437,45,30]),...rl(463,505,1,4,[463,506,38,26]),
 ...rl(767,439,1,2),...rl(767,506,3,4),
 tx(156,204,'RSM 023',26.5,'bold'),bar(239,252,190.5),
 tx(460,205,'RSM 203',26.5,'bold'),bar(527,539,192),
 tx(260,618,'RSM 023',26.5,'bold'),bar(342,354,604),
 tx(544,621,'RSM 203',26.5,'bold'),bar(610,622,607),
 tx(939,429,'RSM 023',26.5,'bold'),
 tx(405,277,'*',26),tx(414,424,'*',26),tx(708,579,'*',26),tx(1005,641,'*',26)
];

const chart=echarts.init(document.getElementById('c'),null,{renderer:'canvas'});
chart.setOption({animation:false,backgroundColor:'#fff',grid,xAxis,yAxis,series,graphic});
</script></body></html>
